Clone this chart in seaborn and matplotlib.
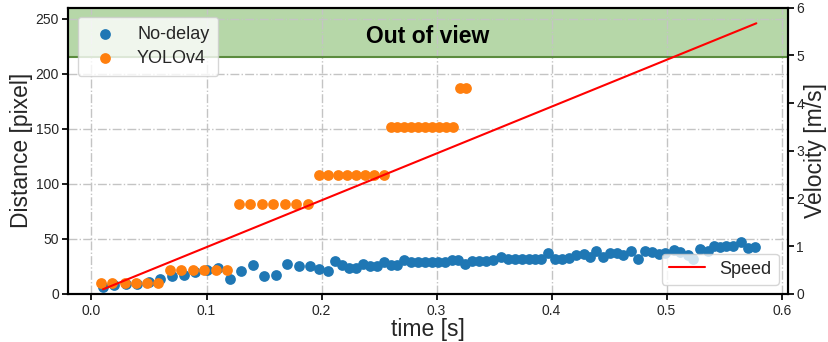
import matplotlib
matplotlib.use("Agg")
import matplotlib.pyplot as plt
import seaborn as sns
import pandas as pd

# Tracked distance without detection delay
nodelay_t = [0.010, 0.020, 0.030, 0.040, 0.050, 0.060, 0.070, 0.080, 0.090, 0.100,
             0.110, 0.120, 0.130, 0.140, 0.150, 0.160, 0.170, 0.180, 0.190, 0.198,
             0.206, 0.212, 0.218, 0.224, 0.230, 0.236, 0.242, 0.248, 0.254, 0.260,
             0.266, 0.272, 0.278, 0.284, 0.290, 0.296, 0.301, 0.307, 0.313, 0.319,
             0.325, 0.331, 0.337, 0.343, 0.349, 0.356, 0.362, 0.368, 0.374, 0.380,
             0.386, 0.391, 0.397, 0.403, 0.409, 0.415, 0.421, 0.428, 0.433, 0.439,
             0.445, 0.451, 0.457, 0.462, 0.469, 0.475, 0.481, 0.487, 0.493, 0.499,
             0.506, 0.512, 0.519, 0.523, 0.529, 0.536, 0.541, 0.546, 0.552, 0.558,
             0.565, 0.571, 0.577]
nodelay_d = [6, 8, 9, 9, 11, 14, 16, 17, 20, 22,
             24, 14, 21, 26, 16, 17, 27, 25, 25, 23,
             21, 30, 26, 24, 24, 27, 25, 25, 29, 26,
             26, 31, 29, 29, 29, 29, 29, 29, 31, 31,
             27, 30, 30, 30, 31, 34, 32, 32, 32, 32,
             32, 32, 37, 32, 32, 33, 35, 36, 34, 39,
             34, 37, 37, 35, 39, 32, 39, 38, 36, 37,
             40, 38, 35, 32, 41, 39, 44, 43, 44, 44,
             47, 42, 43]

# Tracked distance with YOLOv4 detection
yolo_t = [0.008, 0.018, 0.029, 0.039, 0.048, 0.058,
          0.068, 0.078, 0.088, 0.098, 0.108, 0.118,
          0.128, 0.138, 0.148, 0.158, 0.168, 0.178, 0.188,
          0.198, 0.206, 0.214, 0.222, 0.230, 0.238, 0.246, 0.254,
          0.260, 0.266, 0.272, 0.278, 0.284, 0.290, 0.296, 0.302, 0.308, 0.314,
          0.320, 0.326]
yolo_d = [10, 10, 10, 10, 10, 10,
          22, 22, 22, 22, 22, 22,
          82, 82, 82, 82, 82, 82, 82,
          108, 108, 108, 108, 108, 108, 108, 108,
          152, 152, 152, 152, 152, 152, 152, 152, 152, 152,
          187, 187]

# Object speed
speed_t = [0.010, 0.578]
speed_v = [0.098, 5.67]

out_of_view_limit = 215
dist_max = 260

sns.set_theme(style="ticks")
plt.rcParams["font.family"] = ["Liberation Sans", "DejaVu Sans"]

fig, ax1 = plt.subplots(figsize=(8.29, 3.42), dpi=100)
fig.subplots_adjust(left=0.0826, right=0.9505, top=0.978, bottom=0.1404)

ax1.axhspan(out_of_view_limit, dist_max, facecolor="#b6d7a8", edgecolor="none", zorder=0)
ax1.axhline(out_of_view_limit, color="#5b8c3e", lw=1.5, zorder=1)
ax1.text(0.292, 233.5, "Out of view", ha="center", va="center",
         fontsize=16.5, fontweight="bold", color="black", zorder=2)

df_nd = pd.DataFrame({"t": nodelay_t, "d": nodelay_d})
df_yo = pd.DataFrame({"t": yolo_t, "d": yolo_d})
sns.scatterplot(data=df_nd, x="t", y="d", ax=ax1, color="#1f77b4", s=60,
                linewidth=0, label="No-delay", zorder=3)
sns.scatterplot(data=df_yo, x="t", y="d", ax=ax1, color="#ff7f0e", s=60,
                linewidth=0, label="YOLOv4", zorder=3)

ax1.set_xlim(-0.02, 0.6055)
ax1.set_ylim(0, dist_max)
ax1.set_xticks([0.0, 0.1, 0.2, 0.3, 0.4, 0.5, 0.6])
ax1.set_yticks([0, 50, 100, 150, 200, 250])
ax1.grid(True, linestyle="-.", color="#c4c4c4", linewidth=1.0)
ax1.set_axisbelow(True)
ax1.set_xlabel("time [s]", fontsize=16.5, labelpad=0)
ax1.set_ylabel("Distance [pixel]", fontsize=16.5, labelpad=2)
ax1.tick_params(labelsize=10, color="black", length=4, pad=3)
ax1.legend(loc="upper left", fontsize=13, framealpha=0.8,
           borderpad=0.5, handletextpad=0.8, labelspacing=0.4)

ax2 = ax1.twinx()
df_sp = pd.DataFrame({"t": speed_t, "v": speed_v})
sns.lineplot(data=df_sp, x="t", y="v", ax=ax2, color="red", lw=1.5, label="Speed")
ax2.set_ylim(0, 6)
ax2.set_yticks([0, 1, 2, 3, 4, 5, 6])
ax2.set_ylabel("Velocity [m/s]", fontsize=16.5, labelpad=0)
ax2.tick_params(labelsize=10, color="black", length=4, pad=2)
ax2.legend(loc="lower right", fontsize=13, framealpha=0.8)

for ax in (ax1, ax2):
    for sp in ax.spines.values():
        sp.set_visible(True)
        sp.set_color("black")
        sp.set_linewidth(1.5)

fig.savefig("out.png", dpi=100)
